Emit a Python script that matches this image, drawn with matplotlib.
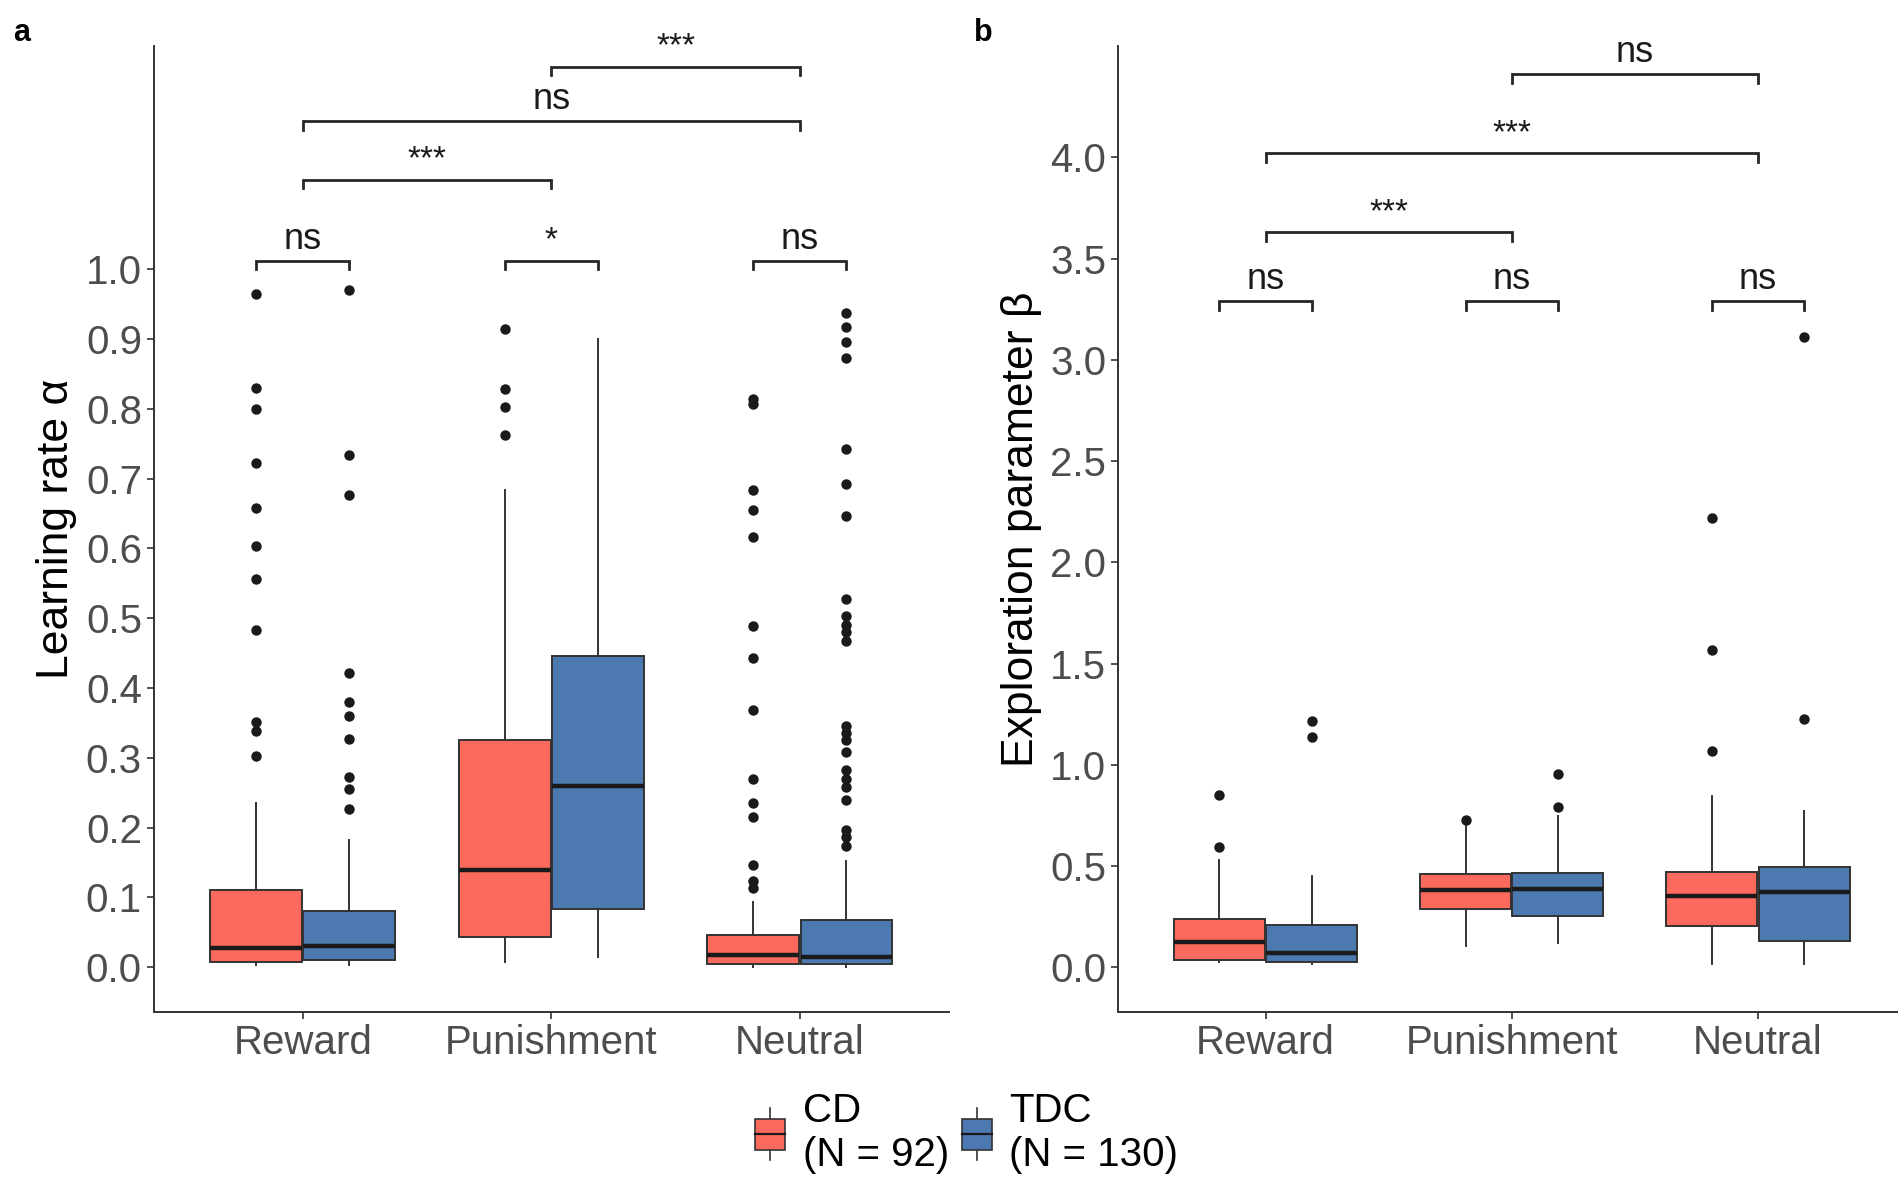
import matplotlib
matplotlib.use('Agg')
from matplotlib import pyplot as plt
from matplotlib.patches import Patch, Rectangle
from matplotlib.lines import Line2D
from matplotlib.legend_handler import HandlerBase

plt.rcParams['font.family'] = ['Liberation Sans', 'DejaVu Sans']

groups = ['Reward', 'Punishment', 'Neutral']
labels_grp = ['CD\n(N = 92)', 'TDC\n(N = 130)']
col_cd = '#FB6A5C'
col_tdc = '#4C79B0'

# learning rate alpha: whisker low, q1, median, q3, whisker high, outliers
alpha_cd_lo = [0.003, 0.008, 0.001]
alpha_cd_q1 = [0.008, 0.044, 0.004]
alpha_cd_med = [0.028, 0.139, 0.018]
alpha_cd_q3 = [0.110, 0.326, 0.046]
alpha_cd_hi = [0.235, 0.684, 0.093]
alpha_cd_out = [
    [0.965, 0.830, 0.800, 0.722, 0.658, 0.604, 0.556, 0.483, 0.352, 0.338, 0.303],
    [0.915, 0.828, 0.802, 0.762],
    [0.814, 0.807, 0.684, 0.655, 0.617, 0.489, 0.443, 0.369, 0.269, 0.235, 0.215,
     0.146, 0.124, 0.114],
]
alpha_tdc_lo = [0.003, 0.015, 0.001]
alpha_tdc_q1 = [0.010, 0.084, 0.004]
alpha_tdc_med = [0.030, 0.259, 0.015]
alpha_tdc_q3 = [0.080, 0.446, 0.067]
alpha_tdc_hi = [0.182, 0.900, 0.152]
alpha_tdc_out = [
    [0.970, 0.734, 0.676, 0.422, 0.380, 0.360, 0.327, 0.272, 0.256, 0.227],
    [],
    [0.937, 0.917, 0.896, 0.873, 0.743, 0.693, 0.646, 0.528, 0.503, 0.490, 0.480,
     0.467, 0.346, 0.336, 0.326, 0.308, 0.283, 0.270, 0.258, 0.240, 0.197, 0.187, 0.174],
]

# exploration parameter beta
beta_cd_lo = [0.026, 0.104, 0.017]
beta_cd_q1 = [0.038, 0.289, 0.204]
beta_cd_med = [0.125, 0.381, 0.350]
beta_cd_q3 = [0.239, 0.463, 0.473]
beta_cd_hi = [0.529, 0.700, 0.844]
beta_cd_out = [[0.849, 0.593], [0.728], [2.218, 1.568, 1.066]]
beta_tdc_lo = [0.017, 0.121, 0.017]
beta_tdc_q1 = [0.026, 0.256, 0.130]
beta_tdc_med = [0.073, 0.385, 0.373]
beta_tdc_q3 = [0.211, 0.464, 0.494]
beta_tdc_hi = [0.451, 0.745, 0.771]
beta_tdc_out = [[1.218, 1.139], [0.953, 0.792], [3.115, 1.225]]

# significance brackets: (x1, x2, height, label); x in category units
alpha_brackets = [
    (1 - 0.1875, 1 + 0.1875, 1.012, 'ns'),
    (2 - 0.1875, 2 + 0.1875, 1.012, '*'),
    (3 - 0.1875, 3 + 0.1875, 1.012, 'ns'),
    (1, 2, 1.128, '***'),
    (1, 3, 1.212, 'ns'),
    (2, 3, 1.290, '***'),
]
beta_brackets = [
    (1 - 0.1875, 1 + 0.1875, 3.29, 'ns'),
    (2 - 0.1875, 2 + 0.1875, 3.29, 'ns'),
    (3 - 0.1875, 3 + 0.1875, 3.29, 'ns'),
    (1, 2, 3.63, '***'),
    (1, 3, 4.02, '***'),
    (2, 3, 4.41, 'ns'),
]


def make_stats(lo, q1, med, q3, hi, out):
    return [dict(whislo=lo[i], q1=q1[i], med=med[i], q3=q3[i], whishi=hi[i], fliers=out[i])
            for i in range(len(lo))]


def draw_boxes(ax, stats, positions, color):
    ax.bxp(stats, positions=positions, widths=0.37, patch_artist=True, showcaps=False,
           boxprops=dict(facecolor=color, edgecolor='#333333', linewidth=1.4),
           medianprops=dict(color='#1a1a1a', linewidth=3.2),
           whiskerprops=dict(color='#333333', linewidth=1.4),
           flierprops=dict(marker='o', markerfacecolor='#1a1a1a', markeredgecolor='none',
                           markersize=7.5))


def draw_brackets(ax, brackets, tip):
    for x1, x2, h, lab in brackets:
        ax.plot([x1, x1, x2, x2], [h - tip, h, h, h - tip], color='#262626', lw=2.0,
                solid_joinstyle='miter')
        fs = 26 if lab == 'ns' else 24
        ax.text((x1 + x2) / 2, h + tip * 0.5, lab, ha='center', va='bottom', fontsize=fs,
                color='#1a1a1a')


def style_axis(ax):
    ax.spines['top'].set_visible(False)
    ax.spines['right'].set_visible(False)
    ax.spines['left'].set_color('#333333')
    ax.spines['bottom'].set_color('#333333')
    ax.spines['left'].set_linewidth(1.4)
    ax.spines['bottom'].set_linewidth(1.4)
    ax.tick_params(axis='both', colors='#333333', labelcolor='#4D4D4D', labelsize=29,
                   length=5, width=1.2)
    ax.set_xticks([1, 2, 3])
    ax.set_xticklabels(groups)
    ax.set_xlim(0.4, 3.6)


class BoxHandler(HandlerBase):
    def create_artists(self, legend, orig_handle, xdescent, ydescent, width, height,
                       fontsize, trans):
        cx = width / 2 - xdescent
        bw = width * 0.75
        y0 = -ydescent
        whisk = Line2D([cx, cx], [y0 + height * 0.0, y0 + height * 1.0], color='#333333',
                       lw=1.2, transform=trans)
        box = Rectangle((cx - bw / 2, y0 + height * 0.2), bw, height * 0.6,
                        facecolor=orig_handle.get_facecolor(), edgecolor='#333333', lw=1.2,
                        transform=trans)
        med = Line2D([cx - bw / 2, cx + bw / 2], [y0 + height * 0.5] * 2, color='#1a1a1a',
                     lw=1.6, transform=trans)
        return [whisk, box, med]


fig = plt.figure(figsize=(18.98, 11.78), dpi=100)
ax1 = fig.add_axes([0.081, 0.141, 0.419, 0.82])
ax2 = fig.add_axes([0.589, 0.141, 0.415, 0.82])

pos_cd = [g - 0.1875 for g in (1, 2, 3)]
pos_tdc = [g + 0.1875 for g in (1, 2, 3)]

# panel a
draw_boxes(ax1, make_stats(alpha_cd_lo, alpha_cd_q1, alpha_cd_med, alpha_cd_q3, alpha_cd_hi,
                           alpha_cd_out), pos_cd, col_cd)
draw_boxes(ax1, make_stats(alpha_tdc_lo, alpha_tdc_q1, alpha_tdc_med, alpha_tdc_q3,
                           alpha_tdc_hi, alpha_tdc_out), pos_tdc, col_tdc)
draw_brackets(ax1, alpha_brackets, 0.012)
style_axis(ax1)
ax1.set_ylim(-0.064, 1.32)
ax1.set_yticks([0.0, 0.1, 0.2, 0.3, 0.4, 0.5, 0.6, 0.7, 0.8, 0.9, 1.0])
ax1.set_yticklabels(['%.1f' % v for v in ax1.get_yticks()])
ax1.set_ylabel('Learning rate α', fontsize=32, labelpad=6)

# panel b
draw_boxes(ax2, make_stats(beta_cd_lo, beta_cd_q1, beta_cd_med, beta_cd_q3, beta_cd_hi,
                           beta_cd_out), pos_cd, col_cd)
draw_boxes(ax2, make_stats(beta_tdc_lo, beta_tdc_q1, beta_tdc_med, beta_tdc_q3,
                           beta_tdc_hi, beta_tdc_out), pos_tdc, col_tdc)
draw_brackets(ax2, beta_brackets, 0.042)
style_axis(ax2)
ax2.set_ylim(-0.22, 4.55)
ax2.set_yticks([0.0, 0.5, 1.0, 1.5, 2.0, 2.5, 3.0, 3.5, 4.0])
ax2.set_yticklabels(['%.1f' % v for v in ax2.get_yticks()])
ax2.set_ylabel('Exploration parameter β', fontsize=32, labelpad=6)

fig.text(0.007, 0.972, 'a', fontsize=22, fontweight='bold', va='center')
fig.text(0.513, 0.972, 'b', fontsize=22, fontweight='bold', va='center')

handles = [Patch(facecolor=col_cd), Patch(facecolor=col_tdc)]
fig.legend(handles, labels_grp, handler_map={Patch: BoxHandler()}, ncol=2,
           loc='lower center', bbox_to_anchor=(0.508, -0.027), frameon=False, fontsize=29,
           handlelength=1.0, handleheight=1.6, handletextpad=0.3, columnspacing=0.2,
           labelspacing=0.2)

fig.savefig('out.png', dpi=100)
